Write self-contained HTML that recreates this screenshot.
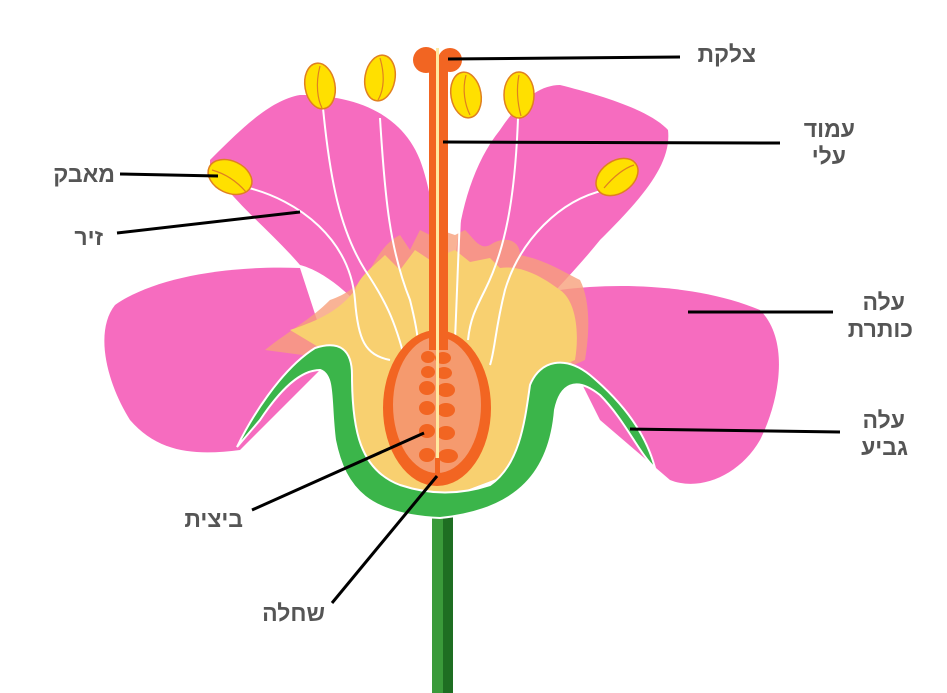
<!DOCTYPE html>
<html><head><meta charset="utf-8"><style>
html,body{margin:0;padding:0;background:#fff;}
svg{display:block}
text{font-family:"Liberation Sans","DejaVu Sans",sans-serif;font-weight:bold;font-size:23px;fill:#555;}
</style></head><body>
<svg width="947" height="693" viewBox="0 0 947 693" xmlns="http://www.w3.org/2000/svg">
<!-- stem -->
<rect x="432" y="505" width="21" height="188" fill="#3a9a3a"/>
<rect x="443" y="505" width="10" height="188" fill="#1e6e22"/>
<!-- lower petals -->
<path d="M300,268 C220,265 150,280 115,305 C95,330 105,380 130,420 C160,455 200,455 240,450 L330,360 Z" fill="#f66cbf"/>
<path d="M560,290 C620,282 700,285 760,310 C790,340 780,400 760,440 C740,475 700,492 670,480 L600,420 L560,340 Z" fill="#f66cbf"/>
<!-- upper petals -->
<path d="M210,160 C240,130 270,100 300,95 C350,95 400,110 420,160 C435,200 440,260 435,330 L380,330 C350,290 320,270 300,265 C270,230 230,200 210,165 Z" fill="#f66cbf"/>
<path d="M455,330 C450,260 460,180 500,130 C520,100 540,85 560,85 C600,95 650,110 668,130 C672,165 640,200 600,240 C580,265 560,285 520,330 Z" fill="#f66cbf"/>
<!-- yellow receptacle with flame -->
<path d="M265,350 C290,330 310,320 330,300 C345,295 360,285 370,270 C380,250 390,240 400,235 L410,250 L420,230 L430,235 L440,230 L455,235 L465,230 C475,240 480,250 490,245 C505,235 520,240 520,255 C545,260 560,270 580,280 C590,300 590,330 585,360 L540,380 L520,470 L440,500 L360,470 L340,360 Z" fill="#f8a07c" opacity="0.8"/>
<path d="M290,330 C320,320 340,310 355,290 C360,275 375,265 385,255 L400,270 L415,250 L430,260 L455,250 L470,262 L490,258 L500,268 C520,265 540,275 560,290 C575,300 580,330 575,360 L530,380 L520,470 L440,500 L360,470 L340,360 Z" fill="#f8d070"/>
<!-- green sepal -->
<path d="M237,447 C250,420 280,370 315,348 C340,340 352,350 352,375 C352,430 360,470 400,485 C430,495 460,495 490,485 C520,465 525,420 530,385 C540,360 565,355 590,375 C620,400 645,430 655,468 C640,455 625,420 600,395 C575,375 560,385 555,410 C550,470 520,510 440,518 C370,515 345,490 335,440 C330,400 335,375 320,370 C300,370 280,390 260,420 Z" fill="#3bb54a" stroke="#fff" stroke-width="2"/>
<!-- filaments -->
<g stroke="#fff" stroke-width="2" fill="none">
<path d="M245,187 C300,200 350,240 355,300 C358,340 365,355 390,360"/>
<path d="M323,108 C330,180 340,230 365,270 C385,300 395,320 405,360"/>
<path d="M380,118 C385,200 390,250 410,300 C415,320 418,335 418,345"/>
<path d="M465,118 C460,200 458,270 455,340"/>
<path d="M518,118 C515,200 505,250 485,290 C475,310 470,320 468,340"/>
<path d="M605,190 C560,200 520,240 505,290 C495,330 495,350 490,365"/>
</g>
<!-- anthers -->
<g fill="#ffe000" stroke="#e08020" stroke-width="1.5">
<ellipse cx="320" cy="86" rx="15" ry="23" transform="rotate(-10 320 86)"/>
<ellipse cx="380" cy="78" rx="15" ry="23" transform="rotate(10 380 78)"/>
<ellipse cx="466" cy="95" rx="15" ry="23" transform="rotate(-10 466 95)"/>
<ellipse cx="519" cy="95" rx="15" ry="23"/>
<ellipse cx="230" cy="177" rx="23" ry="16" transform="rotate(25 230 177)"/>
<ellipse cx="617" cy="177" rx="23" ry="16" transform="rotate(-35 617 177)"/>
</g>
<g stroke="#e08020" stroke-width="1.2" fill="none">
<path d="M320,66 C315,85 318,100 322,108"/><path d="M380,58 C385,75 384,90 378,100"/>
<path d="M466,75 C462,90 465,105 470,115"/><path d="M519,75 C516,90 518,105 521,116"/>
<path d="M212,170 C230,175 240,185 246,192"/><path d="M604,188 C615,175 625,168 634,165"/>
</g>
<!-- ovary -->
<ellipse cx="437" cy="408" rx="54" ry="78" fill="#f26522"/>
<ellipse cx="437" cy="405" rx="44" ry="68" fill="#f59a6e"/>
<g fill="#f26522">
<ellipse cx="428" cy="357" rx="7" ry="6"/><ellipse cx="443" cy="358" rx="8" ry="6"/>
<ellipse cx="428" cy="372" rx="7" ry="6"/><ellipse cx="444" cy="373" rx="8" ry="6"/>
<ellipse cx="427" cy="388" rx="8" ry="7"/><ellipse cx="446" cy="390" rx="9" ry="7"/>
<ellipse cx="427" cy="408" rx="8" ry="7"/><ellipse cx="446" cy="410" rx="9" ry="7"/>
<ellipse cx="427" cy="431" rx="8" ry="7"/><ellipse cx="446" cy="433" rx="9" ry="7"/>
<ellipse cx="427" cy="455" rx="8" ry="7"/><ellipse cx="448" cy="456" rx="10" ry="7"/>
</g>
<!-- style & stigma -->
<rect x="429" y="60" width="19" height="290" fill="#f26522"/>
<circle cx="426" cy="60" r="13" fill="#f26522"/><circle cx="450" cy="60" r="12" fill="#f26522"/>
<rect x="436" y="48" width="3" height="410" fill="#ffe9a0"/>
<rect x="435" y="458" width="5" height="22" fill="#f26522"/>
<!-- leader lines -->
<g stroke="#000" stroke-width="3">
<line x1="448" y1="59" x2="680" y2="57"/>
<line x1="443" y1="142" x2="780" y2="143"/>
<line x1="120" y1="174" x2="218" y2="176"/>
<line x1="117" y1="233" x2="300" y2="212"/>
<line x1="688" y1="312" x2="833" y2="312"/>
<line x1="630" y1="429" x2="840" y2="432"/>
<line x1="252" y1="510" x2="424" y2="433"/>
<line x1="332" y1="603" x2="437" y2="476"/>
</g>
<!-- labels -->
<g text-anchor="end">
<text x="756" y="62">צלקת</text>
<text x="855" y="137">עמוד</text>
<text x="846" y="164">עלי</text>
<text x="115" y="182">מאבק</text>
<text x="103" y="245">זיר</text>
<text x="905" y="310">עלה</text>
<text x="913" y="337">כותרת</text>
<text x="905" y="428">עלה</text>
<text x="908" y="455">גביע</text>
<text x="243" y="527">ביצית</text>
<text x="325" y="621">שחלה</text>
</g>
</svg>
</body></html>
